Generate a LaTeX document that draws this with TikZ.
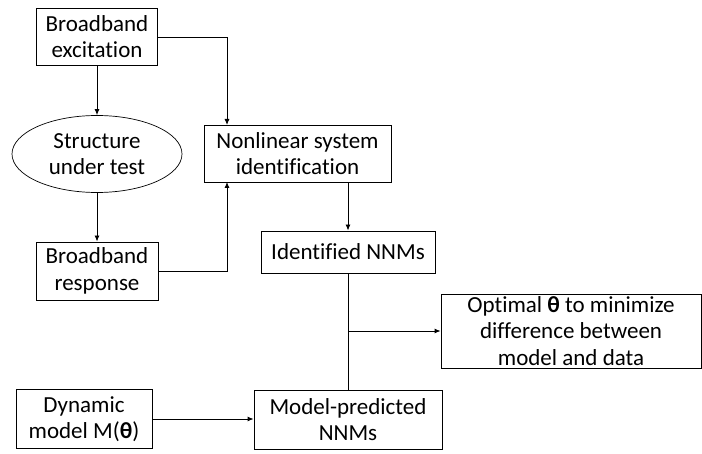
\documentclass[tikz,border=0pt]{standalone}
\usepackage{fontspec}
\setmainfont{Carlito}[Ligatures={NoCommon}]
\usetikzlibrary{arrows.meta,shapes.geometric}
\begin{document}
\begin{tikzpicture}[x=1pt,y=-1pt,
  every node/.style={font=\fontsize{23}{26.5}\selectfont, align=center, inner sep=0pt},
  bx/.style={draw, line width=0.9pt},
  conn/.style={line width=0.9pt},
  arr/.style={conn, -{Latex[length=6pt,width=5pt]}}]
\useasboundingbox (0,0) rectangle (702,454);
\node[bx, minimum width=121pt, minimum height=57pt] (exc) at (97,36.5) {Broadband\\excitation};
\node[ellipse, draw, line width=0.7pt, fill=white, minimum width=170pt, minimum height=77pt] (sut) at (97,154) {Structure\\under test};
\node[bx, minimum width=122pt, minimum height=58pt] (resp) at (97,271) {Broadband\\response};
\node[bx, minimum width=187pt, minimum height=57pt] (nsi) at (297.5,153.5) {Nonlinear system\\identification};
\node[bx, minimum width=174pt, minimum height=42pt] (inn) at (348,252) {Identified NNMs};
\node[bx, minimum width=260pt, minimum height=74pt] (opt) at (571,331) {Optimal \textbf{θ} to minimize\\difference between\\model and data};
\node[bx, minimum width=188pt, minimum height=59pt] (mpn) at (348,419.5) {Model-predicted\\NNMs};
\node[bx, minimum width=136pt, minimum height=59pt] (dyn) at (84,419) {Dynamic\\model M(\textbf{θ})};
\coordinate (j) at (348,331);
\draw[arr] (exc) -- (sut);
\draw[arr] (sut) -- (resp);
\draw[arr] (exc.east |- 0,37) -| (227,125);
\draw[arr] (resp.east |- 0,271) -| (227,182);
\draw[arr] (nsi.south -| 348,0) -- (inn.north);
\draw[conn] (inn.south) -- (mpn.north);
\draw[arr] (j) -- (opt.west);
\draw[arr] (dyn.east) -- (mpn.west |- dyn.east);
\end{tikzpicture}
\end{document}
